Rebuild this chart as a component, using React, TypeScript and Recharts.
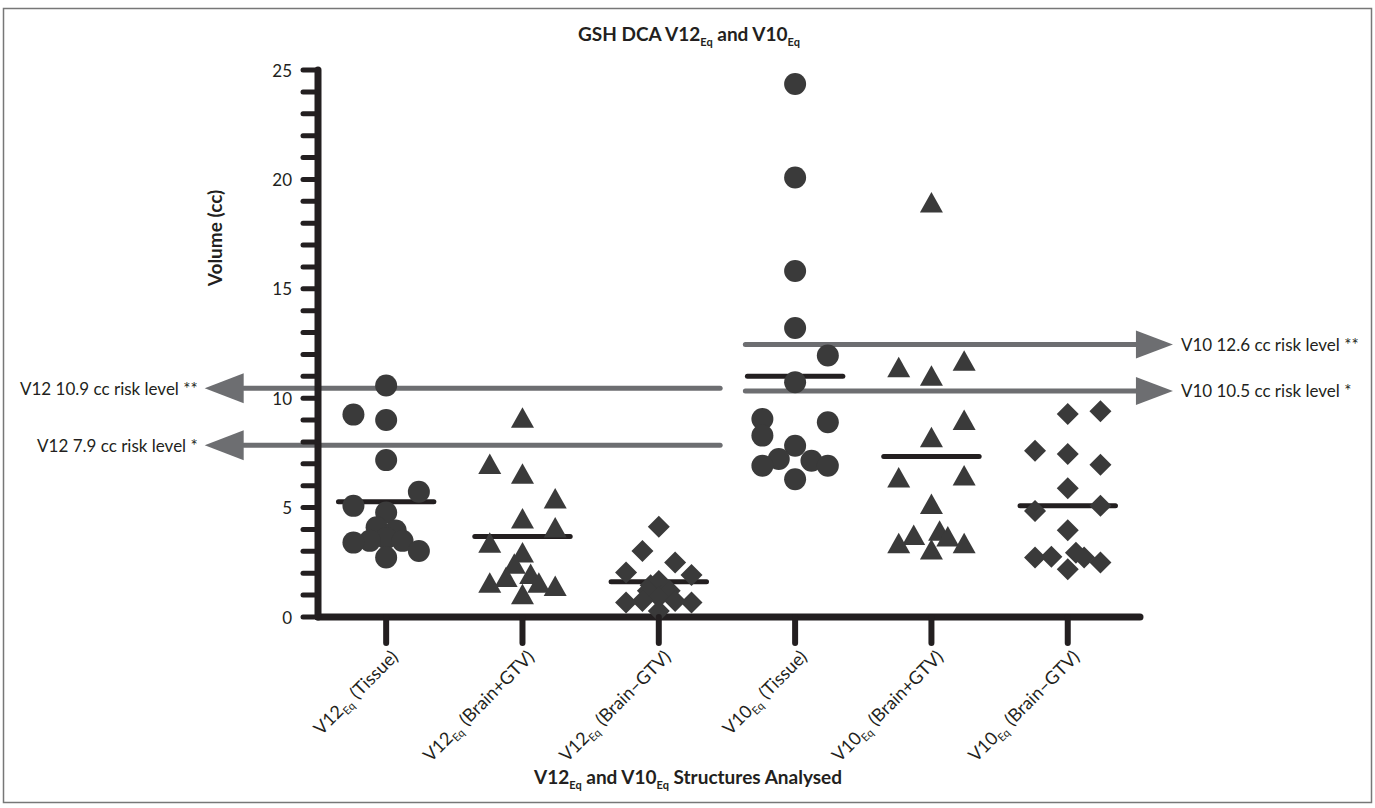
import React from 'react';
import { ScatterChart, Scatter, XAxis, YAxis, ReferenceLine, Customized } from 'recharts';

// ---------- data ----------
const categoryPrefixes = ['V12', 'V12', 'V12', 'V10', 'V10', 'V10'];
const categoryStructures = ['(Tissue)', '(Brain+GTV)', '(Brain–GTV)', '(Tissue)', '(Brain+GTV)', '(Brain–GTV)'];

const v12Tissue = [10.58, 9.25, 9.0, 7.17, 5.72, 5.08, 4.78, 4.1, 3.95, 3.6, 3.48, 3.48, 3.4, 3.02, 2.72];
const v12TissueJitter = [0, -0.24, 0, 0, 0.24, -0.24, 0, -0.07, 0.07, 0, -0.12, 0.12, -0.24, 0.24, 0];

const v12BrainPlus = [9.11, 6.99, 6.55, 5.42, 4.5, 4.09, 3.39, 2.95, 2.43, 1.83, 1.97, 1.57, 1.57, 1.42, 1.04];
const v12BrainPlusJitter = [0, -0.24, 0, 0.24, 0, 0.24, -0.24, 0, -0.06, -0.12, 0.06, -0.24, 0.12, 0.24, 0];

const v12BrainMinus = [4.12, 3.02, 2.49, 2.03, 1.92, 1.65, 1.45, 1.2, 1.2, 0.9, 0.73, 0.73, 0.66, 0.66, 0.27];
const v12BrainMinusJitter = [0, -0.12, 0.12, -0.24, 0.24, 0, -0.06, -0.08, 0.08, 0, -0.12, 0.12, -0.24, 0.24, 0];

const v10Tissue = [24.36, 20.09, 15.81, 13.21, 11.95, 10.73, 9.05, 8.9, 8.29, 7.83, 7.22, 7.14, 6.91, 6.91, 6.3];
const v10TissueJitter = [0, 0, 0, 0, 0.24, 0, -0.24, 0.24, -0.24, 0, -0.12, 0.12, -0.24, 0.24, 0];

const v10BrainPlus = [18.94, 11.71, 11.42, 11.03, 9.0, 8.21, 6.38, 6.47, 5.16, 3.75, 3.94, 3.68, 3.37, 3.37, 3.08];
const v10BrainPlusJitter = [0, 0.24, -0.24, 0, 0.24, 0, -0.24, 0.24, 0, -0.13, 0.06, 0.12, -0.24, 0.24, 0];

const v10BrainMinus = [9.4, 9.28, 7.6, 7.45, 6.96, 5.89, 5.08, 4.85, 3.97, 2.72, 2.75, 2.94, 2.72, 2.49, 2.18];
const v10BrainMinusJitter = [0.24, 0, -0.24, 0, 0.24, 0, 0.24, -0.24, 0, -0.24, -0.12, 0.06, 0.12, 0.24, 0];

const groupMeans = [5.27, 3.68, 1.61, 11.0, 7.33, 5.08];

const riskLabels = ['V12 10.9 cc risk level **', 'V12 7.9 cc risk level *', 'V10 12.6 cc risk level **', 'V10 10.5 cc risk level *'];
const riskValues = [10.45, 7.85, 12.45, 10.33];
const riskSides = ['left', 'left', 'right', 'right'];

const yTicks = [0, 1, 2, 3, 4, 5, 6, 7, 8, 9, 10, 11, 12, 13, 14, 15, 16, 17, 18, 19, 20, 21, 22, 23, 24, 25];
const yTickLabels = ['0', '5', '10', '15', '20', '25'];
const xTicks = [0, 1, 2, 3, 4, 5];

// ---------- styling / layout ----------
const W = 1375;
const H = 808;
const FONT = 'Lato, "Open Sans", sans-serif';
const INK = '#231f20';
const MARK = '#3a3a3a';
const GRAY = '#6d6e71';
const LEFT_SPAN = [-1.045, 2.45];
const RIGHT_SPAN = [2.635, 5.5];
const MEAN_HALF = 0.35;
const FS = 17;
const FS_X = 18;
const FS_BOLD = 19;

const toPoints = (vals: number[], jit: number[], cat: number) =>
  vals.map((v, i) => ({ x: cat + jit[i], y: v }));

const groups = [
  { data: toPoints(v12Tissue, v12TissueJitter, 0), shape: 'circle' },
  { data: toPoints(v12BrainPlus, v12BrainPlusJitter, 1), shape: 'triangle' },
  { data: toPoints(v12BrainMinus, v12BrainMinusJitter, 2), shape: 'diamond' },
  { data: toPoints(v10Tissue, v10TissueJitter, 3), shape: 'circle' },
  { data: toPoints(v10BrainPlus, v10BrainPlusJitter, 4), shape: 'triangle' },
  { data: toPoints(v10BrainMinus, v10BrainMinusJitter, 5), shape: 'diamond' },
];

const CircleMark = (p: any) => <circle cx={p.cx} cy={p.cy} r={11} fill={MARK} />;
const TriangleMark = (p: any) => (
  <polygon
    points={`${p.cx},${p.cy - 10.5} ${p.cx - 11.5},${p.cy + 10} ${p.cx + 11.5},${p.cy + 10}`}
    fill={MARK}
  />
);
const DiamondMark = (p: any) => (
  <polygon
    points={`${p.cx},${p.cy - 11} ${p.cx + 11},${p.cy} ${p.cx},${p.cy + 11} ${p.cx - 11},${p.cy}`}
    fill={MARK}
  />
);
const shapeFor = (s: string) => (s === 'circle' ? CircleMark : s === 'triangle' ? TriangleMark : DiamondMark);

const YTick = (p: any) => {
  const { x, y, payload } = p;
  const lbl = yTickLabels.indexOf(String(payload.value)) >= 0;
  return (
    <g>
      <line x1={x - 15} x2={x} y1={y} y2={y} stroke={INK} strokeWidth={5} strokeLinecap="round" />
      {lbl && (
        <text x={x - 26} y={y} textAnchor="end" dominantBaseline="central" fontFamily={FONT} fontSize={FS} fill={INK}>
          {payload.value}
        </text>
      )}
    </g>
  );
};

const XTick = (p: any) => {
  const { x, y, payload } = p;
  const i = payload.value;
  return (
    <g>
      <line x1={x} x2={x} y1={y} y2={y + 26} stroke={INK} strokeWidth={6} strokeLinecap="round" />
      <text
        transform={`translate(${x + 13},${y + 41}) rotate(-45)`}
        textAnchor="end"
        fontFamily={FONT}
        fontSize={FS_X}
        fill={INK}
      >
        <tspan>{categoryPrefixes[i]}</tspan>
        <tspan dy={4} fontSize={11}>Eq</tspan>
        <tspan dy={-4} dx={1}>{' ' + categoryStructures[i]}</tspan>
      </text>
    </g>
  );
};

const makeRiskShape = (label: string, side: string) => (p: any) => {
  const xa = Math.min(p.x1, p.x2);
  const xb = Math.max(p.x1, p.x2);
  const y = p.y1;
  if (side === 'left') {
    return (
      <g>
        <line x1={xa} y1={y} x2={xb} y2={y} stroke={GRAY} strokeWidth={5} strokeLinecap="round" />
        <polygon points={`${xa - 39},${y} ${xa},${y - 15} ${xa},${y + 15}`} fill={GRAY} />
        <text x={xa - 46} y={y} textAnchor="end" dominantBaseline="central" fontFamily={FONT} fontSize={FS} fill={INK}>
          {label}
        </text>
      </g>
    );
  }
  return (
    <g>
      <line x1={xa} y1={y} x2={xb} y2={y} stroke={GRAY} strokeWidth={5} strokeLinecap="round" />
      <polygon points={`${xb + 37},${y} ${xb},${y - 14} ${xb},${y + 14}`} fill={GRAY} />
      <text x={xb + 45} y={y} textAnchor="start" dominantBaseline="central" fontFamily={FONT} fontSize={FS} fill={INK}>
        {label}
      </text>
    </g>
  );
};

const Decorations = () => (
  <g>
    <rect x={3.5} y={8.5} width={1368} height={794} fill="none" stroke="#777" strokeWidth={1.5} />
    <text x={689} y={41} textAnchor="middle" fontFamily={FONT} fontSize={FS_BOLD} fontWeight={700} fill={INK}>
      <tspan>GSH DCA V12</tspan>
      <tspan dy={5} fontSize={11}>Eq</tspan>
      <tspan dy={-5}> and V10</tspan>
      <tspan dy={5} fontSize={11}>Eq</tspan>
    </text>
    <text
      transform="translate(222,238) rotate(-90)"
      textAnchor="middle"
      fontFamily={FONT}
      fontSize={FS_BOLD}
      fontWeight={700}
      fill={INK}
    >
      Volume (cc)
    </text>
    <text x={688} y={784} textAnchor="middle" fontFamily={FONT} fontSize={FS_BOLD} fontWeight={700} fill={INK}>
      <tspan>V12</tspan>
      <tspan dy={5} fontSize={11}>Eq</tspan>
      <tspan dy={-5}> and V10</tspan>
      <tspan dy={5} fontSize={11}>Eq</tspan>
      <tspan dy={-5}> Structures Analysed</tspan>
    </text>
  </g>
);

export default function App() {
  return (
    <div style={{ position: 'absolute', left: 0, top: 0, width: W, height: H, background: '#fff' }}>
      <ScatterChart width={W} height={H} margin={{ top: 70, right: 235, bottom: 71, left: 258 }}>
        <XAxis
          type="number"
          dataKey="x"
          domain={[-0.5, 5.53]}
          ticks={xTicks}
          interval={0}
          allowDataOverflow
          height={120}
          tickSize={0}
          tickMargin={0}
          tick={<XTick />}
          axisLine={{ stroke: INK, strokeWidth: 7, strokeLinecap: 'round' }}
        />
        <YAxis
          type="number"
          dataKey="y"
          domain={[0, 25]}
          ticks={yTicks}
          interval={0}
          width={60}
          tickSize={0}
          tickMargin={0}
          tick={<YTick />}
          axisLine={{ stroke: INK, strokeWidth: 7, strokeLinecap: 'round' }}
        />
        {riskValues.map((v, i) => (
          <ReferenceLine
            key={'risk' + i}
            segment={
              riskSides[i] === 'left'
                ? [{ x: LEFT_SPAN[0], y: v }, { x: LEFT_SPAN[1], y: v }]
                : [{ x: RIGHT_SPAN[0], y: v }, { x: RIGHT_SPAN[1], y: v }]
            }
            ifOverflow="visible"
            stroke={GRAY}
            strokeWidth={5}
            shape={makeRiskShape(riskLabels[i], riskSides[i])}
          />
        ))}
        {groupMeans.map((m, i) => (
          <ReferenceLine
            key={'mean' + i}
            segment={[{ x: i - MEAN_HALF, y: m }, { x: i + MEAN_HALF, y: m }]}
            ifOverflow="visible"
            stroke={INK}
            strokeWidth={5}
            strokeLinecap="round"
          />
        ))}
        {groups.map((g, i) => (
          <Scatter key={'g' + i} data={g.data} shape={shapeFor(g.shape)} isAnimationActive={false} />
        ))}
        <Customized component={<Decorations />} />
      </ScatterChart>
    </div>
  );
}
